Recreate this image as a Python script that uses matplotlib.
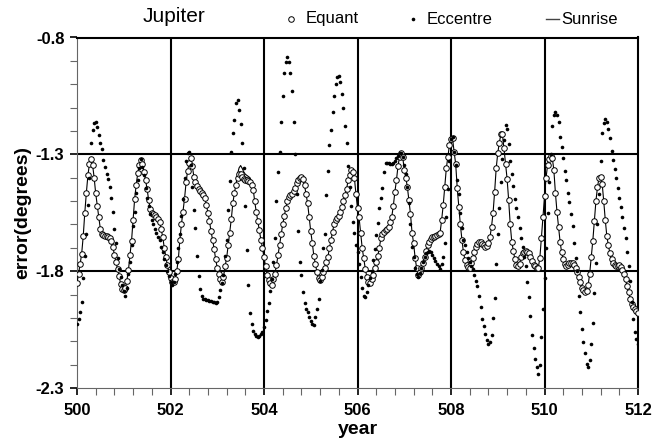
import numpy as np
import matplotlib
matplotlib.use("Agg")
import matplotlib.pyplot as plt
from matplotlib.lines import Line2D
from matplotlib.ticker import MultipleLocator, FixedLocator, FormatStrFormatter

plt.rcParams['font.family'] = ['Liberation Sans', 'DejaVu Sans']
plt.rcParams['axes.unicode_minus'] = False

# Error (degrees) sampled every 1/30 year from 500.0 to 512.0, one row per year
equant = [
    -1.85, -1.81, -1.77, -1.725, -1.65, -1.55, -1.465, -1.39, -1.34, -1.322, -1.345, -1.40, -1.467, -1.52, -1.57,
    -1.62, -1.64, -1.646, -1.648, -1.65, -1.653, -1.658, -1.672, -1.695, -1.73, -1.76, -1.79, -1.82, -1.855, -1.876,
    -1.881, -1.872, -1.84, -1.796, -1.73, -1.67, -1.58, -1.49, -1.43, -1.38, -1.345, -1.326, -1.34, -1.375, -1.41,
    -1.45, -1.496, -1.535, -1.553, -1.557, -1.561, -1.567, -1.575, -1.59, -1.62, -1.653, -1.70, -1.739, -1.775, -1.805,
    -1.828, -1.848, -1.845, -1.835, -1.80, -1.75, -1.667, -1.60, -1.545, -1.49, -1.42, -1.37, -1.335, -1.315, -1.35,
    -1.396, -1.42, -1.437, -1.448, -1.456, -1.465, -1.474, -1.488, -1.515, -1.55, -1.585, -1.63, -1.665, -1.705, -1.75,
    -1.785, -1.81, -1.835, -1.846, -1.825, -1.78, -1.745, -1.69, -1.635, -1.578, -1.51, -1.465, -1.432, -1.40, -1.385,
    -1.385, -1.395, -1.404, -1.408, -1.411, -1.414, -1.42, -1.43, -1.452, -1.50, -1.545, -1.585, -1.625, -1.665, -1.70,
    -1.74, -1.78, -1.815, -1.838, -1.852, -1.858, -1.835, -1.81, -1.775, -1.731, -1.69, -1.64, -1.60, -1.565, -1.53,
    -1.50, -1.482, -1.474, -1.468, -1.457, -1.445, -1.422, -1.408, -1.40, -1.396, -1.405, -1.432, -1.47, -1.51, -1.57,
    -1.63, -1.68, -1.735, -1.77, -1.805, -1.828, -1.838, -1.826, -1.805, -1.785, -1.762, -1.74, -1.70, -1.667, -1.632,
    -1.597, -1.581, -1.572, -1.562, -1.547, -1.525, -1.50, -1.475, -1.448, -1.41, -1.387, -1.368, -1.375, -1.40, -1.47,
    -1.53, -1.57, -1.635, -1.70, -1.745, -1.79, -1.825, -1.845, -1.852, -1.835, -1.815, -1.787, -1.76, -1.735, -1.70,
    -1.66, -1.643, -1.634, -1.625, -1.618, -1.61, -1.59, -1.567, -1.52, -1.46, -1.41, -1.35, -1.31, -1.296, -1.31,
    -1.367, -1.40, -1.44, -1.496, -1.555, -1.635, -1.68, -1.745, -1.788, -1.817, -1.805, -1.787, -1.765, -1.74, -1.712,
    -1.69, -1.675, -1.663, -1.655, -1.652, -1.65, -1.647, -1.642, -1.635, -1.581, -1.517, -1.44, -1.36, -1.31, -1.26,
    -1.235, -1.232, -1.29, -1.34, -1.445, -1.525, -1.60, -1.665, -1.72, -1.753, -1.775, -1.783, -1.785, -1.765, -1.745,
    -1.72, -1.695, -1.684, -1.674, -1.675, -1.683, -1.69, -1.695, -1.692, -1.68, -1.655, -1.61, -1.55, -1.46, -1.36,
    -1.295, -1.25, -1.215, -1.215, -1.275, -1.34, -1.405, -1.496, -1.60, -1.674, -1.712, -1.75, -1.772, -1.78, -1.768,
    -1.74, -1.722, -1.716, -1.714, -1.716, -1.722, -1.74, -1.758, -1.772, -1.78, -1.787, -1.785, -1.745, -1.66, -1.57,
    -1.48, -1.40, -1.345, -1.318, -1.306, -1.315, -1.367, -1.465, -1.545, -1.61, -1.674, -1.72, -1.75, -1.77, -1.778,
    -1.772, -1.766, -1.764, -1.766, -1.772, -1.785, -1.805, -1.825, -1.845, -1.87, -1.882, -1.89, -1.885, -1.86, -1.81,
    -1.739, -1.67, -1.585, -1.50, -1.44, -1.40, -1.397, -1.425, -1.50, -1.581, -1.65, -1.69, -1.724, -1.75, -1.763,
    -1.772, -1.779, -1.776, -1.775, -1.782, -1.795, -1.813, -1.835, -1.865, -1.89, -1.918, -1.94, -1.952, -1.962, -1.972,
    -1.98,
]

eccentre = [
    -2.024, -2.005, -1.975, -1.93, -1.83, -1.735, -1.64, -1.515, -1.40, -1.25, -1.196, -1.167, -1.162, -1.185, -1.217,
    -1.252, -1.279, -1.325, -1.355, -1.385, -1.407, -1.44, -1.485, -1.545, -1.621, -1.68, -1.745, -1.79, -1.825, -1.86,
    -1.885, -1.907, -1.87, -1.81, -1.76, -1.69, -1.605, -1.545, -1.465, -1.41, -1.36, -1.322, -1.355, -1.39, -1.446,
    -1.485, -1.52, -1.557, -1.581, -1.60, -1.62, -1.636, -1.652, -1.667, -1.695, -1.718, -1.75, -1.775, -1.798, -1.822,
    -1.845, -1.858, -1.848, -1.81, -1.76, -1.70, -1.64, -1.565, -1.49, -1.40, -1.33, -1.295, -1.29, -1.345, -1.44,
    -1.539, -1.615, -1.735, -1.82, -1.875, -1.905, -1.917, -1.92, -1.922, -1.924, -1.926, -1.928, -1.931, -1.934, -1.938,
    -1.93, -1.912, -1.881, -1.85, -1.815, -1.735, -1.667, -1.54, -1.415, -1.29, -1.21, -1.155, -1.08, -1.066, -1.11,
    -1.17, -1.25, -1.36, -1.52, -1.71, -1.86, -1.981, -2.027, -2.055, -2.07, -2.078, -2.081, -2.077, -2.07, -2.06,
    -2.04, -2.01, -1.97, -1.935, -1.885, -1.835, -1.76, -1.66, -1.50, -1.374, -1.29, -1.16, -1.05, -0.951, -0.905,
    -0.882, -0.905, -0.95, -1.03, -1.16, -1.30, -1.47, -1.63, -1.76, -1.817, -1.89, -1.935, -1.96, -1.974, -1.996,
    -2.015, -2.027, -2.03, -1.995, -1.96, -1.92, -1.84, -1.796, -1.70, -1.641, -1.474, -1.37, -1.26, -1.195, -1.12,
    -1.05, -0.998, -0.967, -0.964, -0.99, -1.04, -1.10, -1.18, -1.25, -1.35, -1.439, -1.52, -1.589, -1.635, -1.689,
    -1.72, -1.77, -1.827, -1.87, -1.905, -1.91, -1.889, -1.86, -1.83, -1.80, -1.753, -1.705, -1.646, -1.595, -1.53,
    -1.489, -1.446, -1.375, -1.339, -1.336, -1.338, -1.34, -1.343, -1.338, -1.33, -1.315, -1.305, -1.296, -1.293, -1.31,
    -1.345, -1.385, -1.44, -1.51, -1.60, -1.696, -1.74, -1.785, -1.81, -1.824, -1.806, -1.785, -1.762, -1.74, -1.724,
    -1.716, -1.713, -1.718, -1.731, -1.743, -1.756, -1.768, -1.779, -1.792, -1.77, -1.739, -1.68, -1.57, -1.45, -1.33,
    -1.235, -1.225, -1.29, -1.345, -1.41, -1.47, -1.55, -1.615, -1.667, -1.69, -1.72, -1.745, -1.762, -1.78, -1.792,
    -1.815, -1.84, -1.863, -1.905, -1.955, -2.005, -2.035, -2.07, -2.095, -2.112, -2.105, -2.075, -2.00, -1.915, -1.77,
    -1.64, -1.53, -1.42, -1.32, -1.24, -1.175, -1.19, -1.255, -1.33, -1.385, -1.435, -1.49, -1.53, -1.57, -1.615,
    -1.66, -1.696, -1.74, -1.78, -1.846, -1.91, -1.99, -2.075, -2.13, -2.175, -2.21, -2.24, -2.20, -2.08, -1.96,
    -1.83, -1.70, -1.55, -1.42, -1.30, -1.18, -1.13, -1.12, -1.13, -1.16, -1.225, -1.27, -1.317, -1.37, -1.41,
    -1.465, -1.505, -1.555, -1.605, -1.681, -1.745, -1.80, -1.905, -1.975, -2.046, -2.103, -2.15, -2.196, -2.21, -2.18,
    -2.11, -2.02, -1.893, -1.767, -1.60, -1.47, -1.33, -1.21, -1.165, -1.15, -1.16, -1.19, -1.23, -1.285, -1.325,
    -1.364, -1.40, -1.445, -1.488, -1.525, -1.57, -1.615, -1.66, -1.72, -1.78, -1.84, -1.93, -2.005, -2.06, -2.09,
    -2.11,
]

sunrise = [
    -1.85, -1.81, -1.77, -1.725, -1.65, -1.55, -1.465, -1.39, -1.34, -1.322, -1.345, -1.40, -1.467, -1.52, -1.57,
    -1.62, -1.64, -1.646, -1.648, -1.65, -1.653, -1.658, -1.672, -1.695, -1.73, -1.76, -1.79, -1.82, -1.855, -1.876,
    -1.881, -1.872, -1.84, -1.796, -1.73, -1.67, -1.58, -1.49, -1.43, -1.38, -1.345, -1.326, -1.34, -1.375, -1.41,
    -1.45, -1.496, -1.535, -1.553, -1.557, -1.561, -1.567, -1.575, -1.59, -1.62, -1.653, -1.70, -1.739, -1.775, -1.805,
    -1.828, -1.848, -1.845, -1.835, -1.80, -1.75, -1.667, -1.60, -1.545, -1.49, -1.42, -1.37, -1.335, -1.315, -1.35,
    -1.396, -1.42, -1.437, -1.448, -1.456, -1.465, -1.474, -1.488, -1.515, -1.55, -1.585, -1.63, -1.665, -1.705, -1.75,
    -1.785, -1.81, -1.835, -1.846, -1.825, -1.78, -1.745, -1.69, -1.635, -1.578, -1.51, -1.465, -1.43, -1.385, -1.358,
    -1.348, -1.36, -1.375, -1.385, -1.39, -1.395, -1.40, -1.415, -1.445, -1.50, -1.545, -1.585, -1.625, -1.665, -1.70,
    -1.74, -1.78, -1.815, -1.838, -1.852, -1.858, -1.835, -1.81, -1.775, -1.731, -1.69, -1.64, -1.60, -1.565, -1.53,
    -1.50, -1.482, -1.474, -1.468, -1.457, -1.445, -1.422, -1.408, -1.40, -1.396, -1.405, -1.432, -1.47, -1.51, -1.57,
    -1.63, -1.68, -1.735, -1.77, -1.805, -1.828, -1.838, -1.826, -1.805, -1.785, -1.762, -1.74, -1.70, -1.667, -1.632,
    -1.597, -1.581, -1.572, -1.562, -1.547, -1.525, -1.50, -1.475, -1.448, -1.41, -1.387, -1.368, -1.375, -1.40, -1.47,
    -1.53, -1.57, -1.635, -1.70, -1.745, -1.79, -1.825, -1.845, -1.852, -1.835, -1.815, -1.787, -1.76, -1.735, -1.70,
    -1.66, -1.643, -1.634, -1.625, -1.618, -1.61, -1.59, -1.567, -1.52, -1.46, -1.41, -1.35, -1.31, -1.296, -1.31,
    -1.367, -1.40, -1.44, -1.496, -1.555, -1.635, -1.68, -1.745, -1.788, -1.817, -1.805, -1.787, -1.765, -1.74, -1.712,
    -1.69, -1.675, -1.663, -1.655, -1.652, -1.65, -1.647, -1.642, -1.635, -1.581, -1.517, -1.44, -1.36, -1.31, -1.26,
    -1.235, -1.232, -1.29, -1.34, -1.445, -1.525, -1.60, -1.665, -1.72, -1.753, -1.775, -1.783, -1.785, -1.765, -1.745,
    -1.72, -1.695, -1.684, -1.674, -1.675, -1.683, -1.69, -1.695, -1.692, -1.68, -1.655, -1.61, -1.55, -1.46, -1.36,
    -1.295, -1.25, -1.215, -1.215, -1.275, -1.34, -1.405, -1.496, -1.60, -1.674, -1.712, -1.75, -1.772, -1.78, -1.768,
    -1.74, -1.722, -1.716, -1.714, -1.716, -1.722, -1.74, -1.758, -1.772, -1.78, -1.787, -1.785, -1.745, -1.66, -1.57,
    -1.48, -1.40, -1.345, -1.318, -1.306, -1.315, -1.367, -1.465, -1.545, -1.61, -1.674, -1.72, -1.75, -1.77, -1.778,
    -1.772, -1.766, -1.764, -1.766, -1.772, -1.785, -1.805, -1.825, -1.845, -1.87, -1.882, -1.89, -1.885, -1.86, -1.81,
    -1.739, -1.67, -1.585, -1.50, -1.44, -1.40, -1.397, -1.425, -1.50, -1.581, -1.65, -1.69, -1.724, -1.75, -1.763,
    -1.772, -1.779, -1.776, -1.775, -1.782, -1.795, -1.813, -1.835, -1.865, -1.89, -1.918, -1.94, -1.952, -1.962, -1.972,
    -1.98,
]

samples_per_year = 30
years = 500 + np.arange(len(equant)) / samples_per_year

x_major = [500, 502, 504, 506, 508, 510, 512]
y_major = [-2.3, -1.8, -1.3, -0.8]

W, H = 652, 448
fig = plt.figure(figsize=(W / 100, H / 100), dpi=100)
ax = fig.add_axes([77 / W, 1 - 388 / H, (638 - 77) / W, (388 - 37.5) / H])

ax.set_xlim(500, 512)
ax.set_ylim(-2.3, -0.8)

# heavy black reference grid
for xv in x_major[1:-1]:
    ax.axvline(xv, color='black', lw=1.5, zorder=1)
for yv in y_major[1:-1]:
    ax.axhline(yv, color='black', lw=1.5, zorder=1)

ax.plot(years, sunrise, color='black', lw=0.8, zorder=3)
ax.plot(years, equant, ls='none', marker='o', ms=4.0, mfc='white', mec='black', mew=0.7, zorder=4)
ax.plot(years, eccentre, ls='none', marker='o', ms=2.6, mfc='black', mec='none', zorder=5)

for side in ('top', 'right'):
    ax.spines[side].set_color('black')
    ax.spines[side].set_linewidth(1.5)
for side in ('left', 'bottom'):
    ax.spines[side].set_color('#666666')
    ax.spines[side].set_linewidth(0.8)

ax.xaxis.set_major_locator(FixedLocator(x_major))
ax.xaxis.set_minor_locator(MultipleLocator(0.4))
ax.yaxis.set_major_locator(FixedLocator(y_major))
ax.yaxis.set_minor_locator(MultipleLocator(0.1))
ax.xaxis.set_major_formatter(FormatStrFormatter('%d'))
ax.yaxis.set_major_formatter(FormatStrFormatter('%.1f'))

ax.tick_params(which='major', direction='out', length=5, width=1.2, color='black', pad=6)
ax.tick_params(which='minor', direction='out', length=5, width=0.8, color='#666666')
ax.tick_params(axis='y', which='major', pad=4)
for lab in ax.get_xticklabels() + ax.get_yticklabels():
    lab.set_fontsize(12)
    lab.set_fontweight('bold')

ax.set_xlabel('year', fontsize=14, fontweight='bold', labelpad=2)
ax.set_ylabel('error(degrees)', fontsize=14, fontweight='bold', labelpad=3)

# title and legend row above the plot
fig.text(174 / W, 1 - 17 / H, 'Jupiter', fontsize=15, ha='center', va='center')
ly = 1 - 19 / H
fig.add_artist(Line2D([291 / W], [ly], transform=fig.transFigure, marker='o', ms=4.0,
                      mfc='white', mec='black', mew=0.7, ls='none'))
fig.text(306 / W, ly, 'Equant', fontsize=12, ha='left', va='center')
fig.add_artist(Line2D([413 / W], [ly], transform=fig.transFigure, marker='o', ms=2.6,
                      mfc='black', mec='none', ls='none'))
fig.text(427 / W, ly, 'Eccentre', fontsize=12, ha='left', va='center')
fig.add_artist(Line2D([546 / W, 559 / W], [ly, ly], transform=fig.transFigure, color='#444444', lw=1.0))
fig.text(561 / W, ly, 'Sunrise', fontsize=12, ha='left', va='center')

fig.savefig('out.png', dpi=100)
